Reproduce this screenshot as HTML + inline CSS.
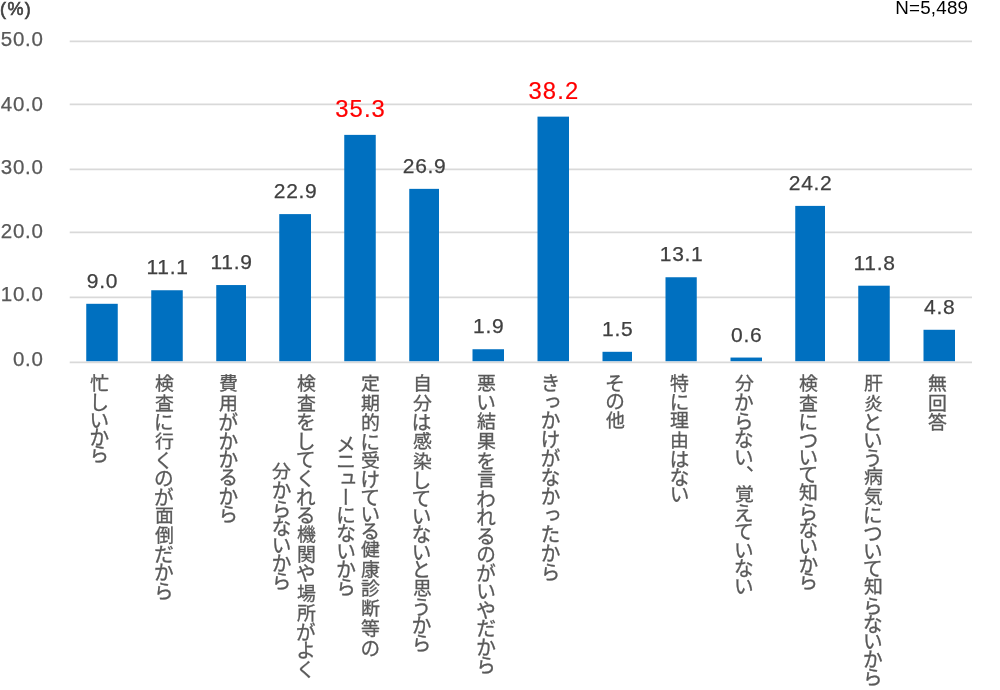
<!DOCTYPE html>
<html lang="ja"><head><meta charset="utf-8"><title>chart</title>
<style>
html,body{margin:0;padding:0;background:#fff;}
body{width:1000px;height:690px;position:relative;overflow:hidden;font-family:"Liberation Sans","Noto Sans CJK JP",sans-serif;}
.ax{position:absolute;left:0;width:43.8px;text-align:right;font-size:20.5px;line-height:24px;color:#595959;letter-spacing:.8px;white-space:nowrap;-webkit-text-stroke:.25px #595959;}
.plot{position:absolute;left:0;top:0;}
.v{position:absolute;width:90px;text-align:center;font-size:21px;line-height:24px;color:#404040;letter-spacing:.7px;white-space:nowrap;-webkit-text-stroke:.25px #404040;}
.v.r{color:#ff0000;font-size:23.8px;letter-spacing:1.1px;-webkit-text-stroke:.2px #ff0000;}
.lab{position:absolute;top:373.1px;writing-mode:vertical-rl;font-family:"Liberation Sans","Noto Sans CJK JP",sans-serif;font-size:20px;line-height:24.4px;color:#595959;text-align:center;white-space:nowrap;-webkit-text-stroke:.3px #595959;}
.lab div{white-space:nowrap;}
.j{display:inline-block;font-size:18px;letter-spacing:1.8px;transform:scaleX(1.05);padding-top:.9px;margin-bottom:-.9px;}
.pct{position:absolute;left:0;top:-2px;font-size:18px;line-height:22px;color:#404040;letter-spacing:1.4px;-webkit-text-stroke:.6px #404040;}
.n{position:absolute;left:895.3px;top:-3.6px;font-size:18.8px;line-height:24px;color:#000;white-space:nowrap;letter-spacing:.2px;}
</style></head>
<body>
<svg class="plot" width="1000" height="690" viewBox="0 0 1000 690"><g stroke="#d9d9d9" stroke-width="1.7"><line x1="69.7" x2="972.0" y1="41.30" y2="41.30"/><line x1="69.7" x2="972.0" y1="104.35" y2="104.35"/><line x1="69.7" x2="972.0" y1="169.30" y2="169.30"/><line x1="69.7" x2="972.0" y1="232.40" y2="232.40"/><line x1="69.7" x2="972.0" y1="297.40" y2="297.40"/><line x1="69.7" x2="972.0" y1="362.40" y2="362.40"/></g><g fill="#0070c0"><rect x="86.25" y="303.80" width="31.50" height="57.40"/><rect x="151.25" y="290.25" width="31.50" height="70.95"/><rect x="216.25" y="285.05" width="29.75" height="76.15"/><rect x="279.25" y="214.10" width="31.75" height="147.10"/><rect x="344.25" y="134.88" width="31.50" height="226.32"/><rect x="409.25" y="188.86" width="29.75" height="172.34"/><rect x="472.50" y="349.24" width="31.50" height="11.96"/><rect x="537.50" y="116.64" width="31.50" height="244.56"/><rect x="602.50" y="351.80" width="29.50" height="9.40"/><rect x="665.50" y="277.25" width="31.25" height="83.95"/><rect x="730.50" y="357.56" width="31.50" height="3.64"/><rect x="795.25" y="205.90" width="29.75" height="155.30"/><rect x="858.25" y="285.70" width="31.50" height="75.50"/><rect x="923.50" y="329.78" width="31.50" height="31.42"/></g></svg>
<div class="pct">(%)</div>
<div class="n">N=5,489</div>
<div class="ax" style="top:26.7px">50.0</div>
<div class="ax" style="top:92.2px">40.0</div>
<div class="ax" style="top:155.1px">30.0</div>
<div class="ax" style="top:218.9px">20.0</div>
<div class="ax" style="top:282.4px">10.0</div>
<div class="ax" style="top:346.8px">0.0</div>
<div class="v" style="left:57.5px;top:268.9px">9.0</div>
<div class="lab" style="left:85.4px;width:24.4px"><div style="letter-spacing:-2.75px"><span class="j">忙</span>しいから</div></div>
<div class="v" style="left:122.5px;top:255.4px">11.1</div>
<div class="lab" style="left:149.9px;width:24.4px"><div style="letter-spacing:-1.83px"><span class="j">検査</span>に<span class="j">行</span>くのが<span class="j">面倒</span>だから</div></div>
<div class="v" style="left:186.6px;top:250.1px">11.9</div>
<div class="lab" style="left:214.3px;width:24.4px"><div style="letter-spacing:-1.64px"><span class="j">費用</span>がかかるから</div></div>
<div class="v" style="left:250.6px;top:179.2px">22.9</div>
<div class="lab" style="left:267.5px;width:48.8px"><div style="letter-spacing:-1.39px"><span class="j">検査</span>をしてくれる<span class="j">機関</span>や<span class="j">場所</span>がよく</div><div style="letter-spacing:-1.80px"><span class="j">分</span>からないから</div></div>
<div class="v r" style="left:315.6px;top:96.9px">35.3</div>
<div class="lab" style="left:332.0px;width:48.8px"><div style="letter-spacing:-2.60px"><span class="j">定期的</span>に<span class="j">受</span>けている<span class="j">健康診断等</span>の</div><div style="letter-spacing:-2.13px">メニューにないから</div></div>
<div class="v" style="left:379.6px;top:154.0px">26.9</div>
<div class="lab" style="left:407.7px;width:24.4px"><div style="letter-spacing:-2.06px"><span class="j">自分</span>は<span class="j">感染</span>していないと<span class="j">思</span>うから</div></div>
<div class="v" style="left:443.7px;top:314.3px">1.9</div>
<div class="lab" style="left:472.1px;width:24.4px"><div style="letter-spacing:-1.51px"><span class="j">悪</span>い<span class="j">結果</span>を<span class="j">言</span>われるのがいやだから</div></div>
<div class="v r" style="left:508.9px;top:78.6px">38.2</div>
<div class="lab" style="left:536.6px;width:24.4px"><div style="letter-spacing:-1.06px">きっかけがなかったから</div></div>
<div class="v" style="left:572.7px;top:316.9px">1.5</div>
<div class="lab" style="left:601.0px;width:24.4px"><div style="letter-spacing:-1.30px">その<span class="j">他</span></div></div>
<div class="v" style="left:636.6px;top:242.4px">13.1</div>
<div class="lab" style="left:665.5px;width:24.4px"><div style="letter-spacing:-2.54px"><span class="j">特</span>に<span class="j">理由</span>はない</div></div>
<div class="v" style="left:701.7px;top:322.7px">0.6</div>
<div class="lab" style="left:729.9px;width:24.4px"><div style="letter-spacing:-1.79px"><span class="j">分</span>からない、<span class="j">覚</span>えていない</div></div>
<div class="v" style="left:765.6px;top:171.0px">24.2</div>
<div class="lab" style="left:794.4px;width:24.4px"><div style="letter-spacing:-2.63px"><span class="j">検査</span>について<span class="j">知</span>らないから</div></div>
<div class="v" style="left:829.5px;top:250.8px">11.8</div>
<div class="lab" style="left:858.8px;width:24.4px"><div style="letter-spacing:-2.26px"><span class="j">肝炎</span>という<span class="j">病気</span>について<span class="j">知</span>らないから</div></div>
<div class="v" style="left:894.7px;top:294.9px">4.8</div>
<div class="lab" style="left:923.3px;width:24.4px"><div style="letter-spacing:-2.00px"><span class="j">無回答</span></div></div>
</body></html>
